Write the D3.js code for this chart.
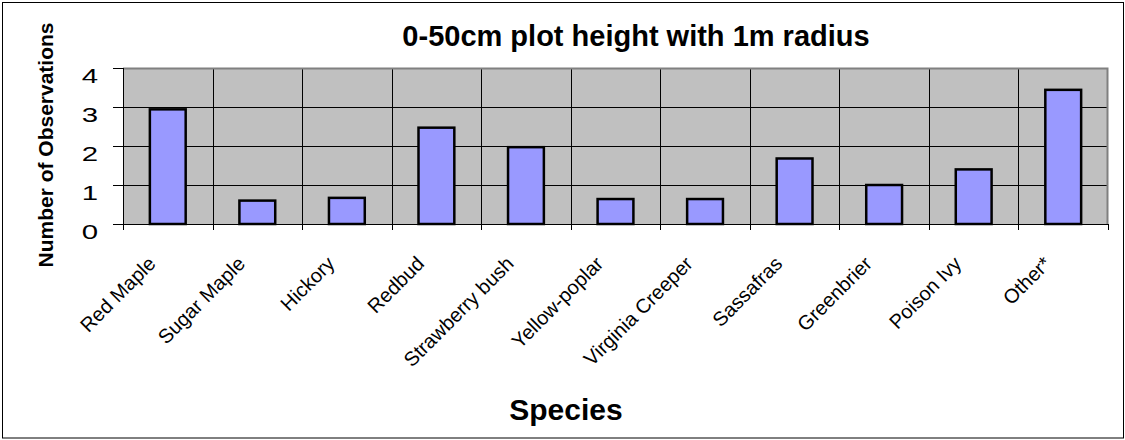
<!DOCTYPE html>
<html>
<head>
<meta charset="utf-8">
<script src="https://cdn.jsdelivr.net/npm/d3@7"></script>
<style>
  body { margin: 0; background: #fff; }
  text { font-family: Arial, "Liberation Sans", sans-serif; fill: #000; }
</style>
</head>
<body>
<script>
// chart data
var species = ["Red Maple", "Sugar Maple", "Hickory", "Redbud", "Strawberry bush", "Yellow-poplar",
               "Virginia Creeper", "Sassafras", "Greenbrier", "Poison Ivy", "Other*"];
var observations = [2.94, 0.6, 0.67, 2.47, 1.97, 0.64, 0.64, 1.68, 1.0, 1.4, 3.44];
var yTicks = [0, 1, 2, 3, 4];
var chartTitle = "0-50cm plot height with 1m radius";
var xTitle = "Species";
var yTitle = "Number of Observations";

var W = 1125, H = 440;
var pLeft = 123, pRight = 1108, pTop = 68, pBottom = 224;

var svg = d3.select("body").append("svg")
    .attr("width", W)
    .attr("height", H);

// outer frame
svg.append("rect")
    .attr("x", 2.5).attr("y", 2.5)
    .attr("width", W - 4).attr("height", H - 4.5)
    .attr("fill", "#fff")
    .attr("stroke", "#000")
    .attr("stroke-width", 1);

var x = d3.scaleBand().domain(species).range([pLeft, pRight]).paddingInner(0).paddingOuter(0);
var y = d3.scaleLinear().domain([0, 4]).range([pBottom, pTop]);

// plot area
svg.append("rect")
    .attr("x", pLeft).attr("y", pTop)
    .attr("width", pRight - pLeft).attr("height", pBottom - pTop)
    .attr("fill", "#c0c0c0");

// horizontal grid
svg.selectAll(".hgrid")
    .data(yTicks.slice(1, -1))
  .enter().append("line")
    .attr("class", "hgrid")
    .attr("x1", pLeft).attr("x2", pRight)
    .attr("y1", function(d){ return Math.round(y(d)) + 0.5; })
    .attr("y2", function(d){ return Math.round(y(d)) + 0.5; })
    .attr("stroke", "#000")
    .attr("stroke-width", 1);

// vertical grid at category boundaries
svg.selectAll(".vgrid")
    .data(species.slice(1))
  .enter().append("line")
    .attr("class", "vgrid")
    .attr("x1", function(d){ return Math.round(x(d)) + 0.5; })
    .attr("x2", function(d){ return Math.round(x(d)) + 0.5; })
    .attr("y1", pTop).attr("y2", pBottom)
    .attr("stroke", "#000")
    .attr("stroke-width", 1);

// plot border (gray top and right)
svg.append("path")
    .attr("d", "M" + pLeft + "," + (pTop + 0.5) + "H" + (pRight - 0.5) + "V" + pBottom)
    .attr("fill", "none")
    .attr("stroke", "#808080")
    .attr("stroke-width", 2);

// bars
var bw = x.bandwidth() * 0.4;
svg.selectAll(".bar")
    .data(observations)
  .enter().append("rect")
    .attr("class", "bar")
    .attr("x", function(d, i){ return x(species[i]) + (x.bandwidth() - bw) / 2; })
    .attr("y", function(d){ return y(d); })
    .attr("width", bw)
    .attr("height", function(d){ return y(0) - y(d); })
    .attr("fill", "#9999ff")
    .attr("stroke", "#000")
    .attr("stroke-width", 2.5);

// y axis
var yAxis = svg.append("g")
    .attr("transform", "translate(" + pLeft + ",0)")
    .call(d3.axisLeft(y).tickValues(yTicks).tickSize(10).tickPadding(14).tickFormat(d3.format("d")));
yAxis.select(".domain").attr("stroke", "#000").attr("d", "M0.5," + pTop + "V" + (pBottom + 0.5));
yAxis.selectAll(".tick line").attr("stroke", "#000");
yAxis.selectAll(".tick text")      // the digits are drawn wide in the original
    .style("font-family", "Arial, 'Liberation Sans', sans-serif")
    .attr("font-size", 21)
    .attr("x", 0)
    .attr("dy", 14.5)
    .attr("transform", "translate(-25,0) scale(1.4,1)")
    .attr("fill", "#000");

// x axis line + ticks at boundaries
svg.append("line")
    .attr("x1", pLeft).attr("x2", pRight)
    .attr("y1", pBottom + 0.5).attr("y2", pBottom + 0.5)
    .attr("stroke", "#000");
svg.selectAll(".xtick")
    .data(species.concat(["end"]))
  .enter().append("line")
    .attr("class", "xtick")
    .attr("x1", function(d, i){ return Math.round(pLeft + i * x.step()) + 0.5; })
    .attr("x2", function(d, i){ return Math.round(pLeft + i * x.step()) + 0.5; })
    .attr("y1", pBottom).attr("y2", pBottom + 6)
    .attr("stroke", "#000");

// x labels
svg.selectAll(".xlab")
    .data(species)
  .enter().append("text")
    .attr("class", "xlab")
    .attr("text-anchor", "end")
    .attr("font-size", 20)
    .attr("transform", function(d){
        return "translate(" + (x(d) + x.bandwidth() / 2 - 11) + "," + 265 + ") rotate(-45)";
    })
    .text(function(d){ return d; });

// titles
svg.append("text")
    .attr("x", 636).attr("y", 46)
    .attr("text-anchor", "middle")
    .attr("font-size", 29)
    .attr("font-weight", "bold")
    .text(chartTitle);

svg.append("text")
    .attr("x", 566).attr("y", 420)
    .attr("text-anchor", "middle")
    .attr("font-size", 30)
    .attr("font-weight", "bold")
    .text(xTitle);

svg.append("text")
    .attr("transform", "translate(53,145) rotate(-90)")
    .attr("text-anchor", "middle")
    .attr("font-size", 21)
    .attr("font-weight", "bold")
    .text(yTitle);
</script>
</body>
</html>
